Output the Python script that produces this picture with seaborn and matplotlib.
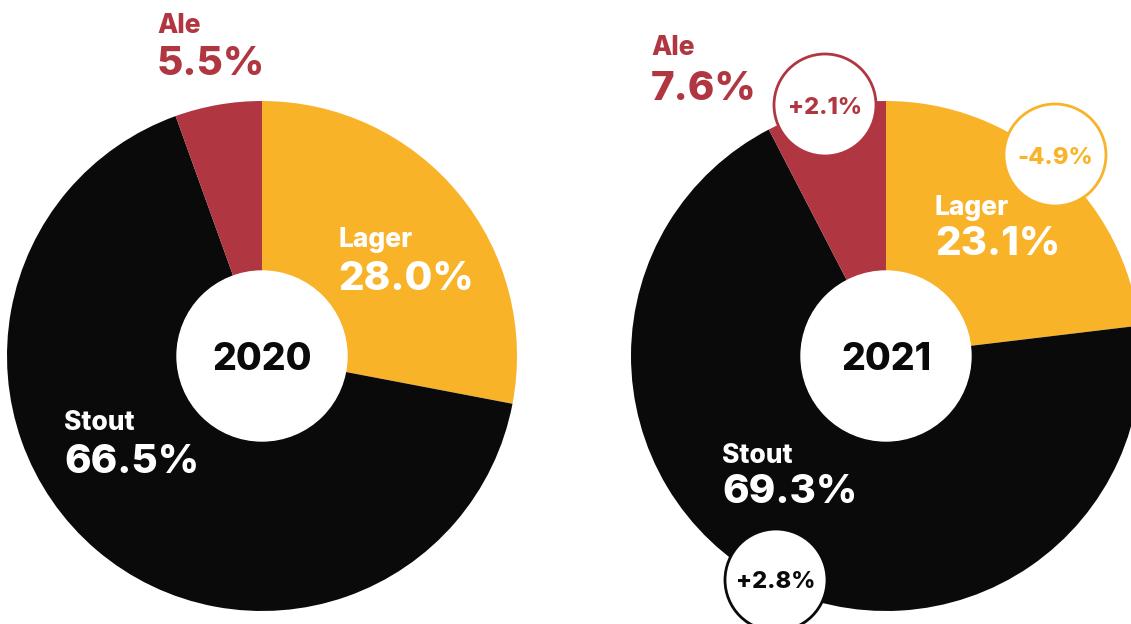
import matplotlib
matplotlib.use("Agg")
import matplotlib.pyplot as plt
import seaborn as sns

sns.set_theme(style="white")
plt.rcParams['font.family'] = ['Inter', 'DejaVu Sans']

# data
beer_types = ["Lager", "Stout", "Ale"]
share_2020 = [28.0, 66.5, 5.5]
share_2021 = [23.1, 69.3, 7.6]
years = ["2020", "2021"]

colors = {"Lager": "#F9B329", "Stout": "#0A0A0A", "Ale": "#B03641"}
pal = sns.color_palette([colors[t] for t in beer_types])

W, H = 1131, 624
fig = plt.figure(figsize=(W / 100, H / 100), dpi=100)
ax = fig.add_axes([0, 0, 1, 1])


def Y(py):
    # pixel row -> data y
    return H - py


R = 255
centers = [(262, 356), (886, 356)]
FW = "heavy"

for (cx, cy), shares, yr in zip(centers, [share_2020, share_2021], years):
    ax.pie(shares, colors=pal, startangle=90, counterclock=False,
           center=(cx, Y(cy)), radius=R, wedgeprops=dict(linewidth=0))
    ax.add_patch(plt.Circle((cx, Y(cy)), 85, color="white", zorder=3))
    ax.text(cx, Y(cy), yr, ha="center", va="center_baseline", fontsize=27,
            fontweight=FW, color="#0A0A0A", zorder=4)

# category labels: (x, baseline of name, baseline of value, color)
label_pos = {
    0: {"Lager": (338, 247, 290, "white"),
        "Stout": (64, 430, 473, "white"),
        "Ale": (157, 33, 75, colors["Ale"])},
    1: {"Lager": (935, 215, 255, "white"),
        "Stout": (722, 463, 503, "white"),
        "Ale": (651, 55, 100, colors["Ale"])},
}

for i, shares in enumerate([share_2020, share_2021]):
    for t, v in zip(beer_types, shares):
        x, yb1, yb2, c = label_pos[i][t]
        ax.text(x, Y(yb1), t, ha="left", va="baseline", fontsize=19,
                fontweight=FW, color=c, zorder=5)
        ax.text(x, Y(yb2), f"{v:.1f}%", ha="left", va="baseline", fontsize=29,
                fontweight=FW, color=c, zorder=5)

# change bubbles on 2021 pie
bubble_pos = {"Lager": (1055, 155), "Stout": (776, 580), "Ale": (825, 105)}
for t, a, b in zip(beer_types, share_2020, share_2021):
    d = b - a
    bx, by = bubble_pos[t]
    ax.add_patch(plt.Circle((bx, Y(by)), 51, facecolor="white",
                            edgecolor=colors[t], linewidth=2, zorder=6))
    ax.text(bx, Y(by), f"{d:+.1f}%", ha="center", va="center_baseline",
            fontsize=17, fontweight=FW, color=colors[t], zorder=7)

ax.set_xlim(0, W)
ax.set_ylim(0, H)
ax.set_aspect("equal")
ax.axis("off")

fig.savefig("out.png", dpi=100, facecolor="white")
